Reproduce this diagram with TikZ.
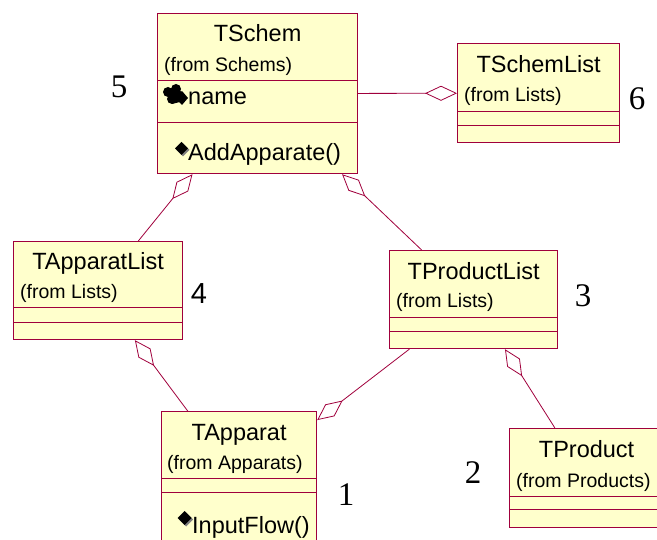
\documentclass[tikz,border=0pt]{standalone}
\usepackage{fontspec}
\setmainfont{Liberation Sans}
\newfontfamily\timesfont{Liberation Serif}
\usetikzlibrary{arrows.meta}

\definecolor{roseline}{RGB}{160,0,60}
\definecolor{rosefill}{RGB}{255,255,204}

\begin{document}
\begin{tikzpicture}[
                        x=1pt, y=-1pt,
                        classbox/.style={
                            rectangle,
                            draw=roseline,
                            fill=rosefill,
                            line width=1.2pt,
                            inner sep=0pt,
                            anchor=north west
                        },
                        divider/.style={
                            draw=roseline,
                            line width=0.9pt
                        },
                        title/.style={
                            font=\fontsize{23.5}{28}\selectfont,
                            anchor=base,
                            inner sep=0pt
                        },
                        from/.style={
                            font=\fontsize{19.5}{23}\selectfont,
                            anchor=base west,
                            inner sep=0pt
                        },
                        member/.style={
                            font=\fontsize{23.5}{28}\selectfont,
                            anchor=base west,
                            inner sep=0pt
                        },
                        number/.style={
                            font=\timesfont\fontsize{33}{38}\selectfont,
                            anchor=base,
                            inner sep=0pt
                        },
                        agg/.style={
                            draw=roseline,
                            line width=0.8pt,
                            -{Diamond[open, length=32pt, width=15pt]}
                        }]

                        \useasboundingbox (0,0) rectangle (657,540);

                        % class boxes
                        \node (tschem) [classbox, minimum width=200pt, minimum height=160pt] at (157,13) {};
                        \node (tschemlist) [classbox, minimum width=162pt, minimum height=99pt] at (457,43) {};
                        \node (tapparatlist) [classbox, minimum width=169pt, minimum height=98pt] at (13,241) {};
                        \node (tproductlist) [classbox, minimum width=168pt, minimum height=98pt] at (389,250) {};
                        \node (tapparat) [classbox, minimum width=155pt, minimum height=137pt] at (161,411) {};
                        \node (tproduct) [classbox, minimum width=154pt, minimum height=99pt] at (509,428) {};

                        % compartments
                        \draw [divider] (tschem.west |- 0,80) -- (tschem.east |- 0,80);
                        \draw [divider] (tschem.west |- 0,122) -- (tschem.east |- 0,122);
                        \draw [divider] (tschemlist.west |- 0,111) -- (tschemlist.east |- 0,111);
                        \draw [divider] (tschemlist.west |- 0,125) -- (tschemlist.east |- 0,125);
                        \draw [divider] (tapparatlist.west |- 0,307) -- (tapparatlist.east |- 0,307);
                        \draw [divider] (tapparatlist.west |- 0,322) -- (tapparatlist.east |- 0,322);
                        \draw [divider] (tproductlist.west |- 0,317) -- (tproductlist.east |- 0,317);
                        \draw [divider] (tproductlist.west |- 0,331) -- (tproductlist.east |- 0,331);
                        \draw [divider] (tapparat.west |- 0,478) -- (tapparat.east |- 0,478);
                        \draw [divider] (tapparat.west |- 0,492) -- (tapparat.east |- 0,492);
                        \draw [divider] (tproduct.west |- 0,496) -- (tproduct.east |- 0,496);
                        \draw [divider] (tproduct.west |- 0,509) -- (tproduct.east |- 0,509);

                        % texts
                        \node (tschem_title) [title] at (tschem.north |- 0,42) {TSchem};
                        \node (tschem_from) [from] at (164,72) {(from Schems)};
                        \node (tschem_name) [member] at (188,105) {name};
                        \node (tschem_add) [member] at (188,161) {AddApparate()};

                        \node (tschemlist_title) [title] at (tschemlist.north |- 0,73) {TSchemList};
                        \node (tschemlist_from) [from] at (464,102) {(from Lists)};

                        \node (tapparatlist_title) [title] at (tapparatlist.north |- 0,270) {TApparatList};
                        \node (tapparatlist_from) [from] at (20,299) {(from Lists)};

                        \node (tproductlist_title) [title] at (tproductlist.north |- 0,280) {TProductList};
                        \node (tproductlist_from) [from] at (396,308) {(from Lists)};

                        \node (tapparat_title) [title] at (tapparat.north |- 0,441) {TApparat};
                        \node (tapparat_from) [from] at (167,470) {(from Apparats)};
                        \node (tapparat_input) [member] at (192,533) {InputFlow()};

                        \node (tproduct_title) [title] at (tproduct.north |- 0,457) {TProduct};
                        \node (tproduct_from) [from] at (516,487) {(from Products)};

                        % icons
                        \fill (168,92) circle [radius=5pt];
                        \fill (176,89) circle [radius=5pt];
                        \fill (172,99) circle [radius=5pt];
                        \fill (167,92) -- (176,85) -- (182,93) -- (180,102) -- (172,104) -- cycle;
                        \fill (175,98) -- (182,91) -- (188,98) -- (182,105) -- cycle;
                        \fill [gray] (176.5,150) -- (183,143.5) -- (189.5,150) -- (183,156.5) -- cycle;
                        \fill (175,148.5) -- (181.5,142) -- (188,148.5) -- (181.5,155) -- cycle;
                        \fill [gray] (179,519.5) -- (186,512.5) -- (193,519.5) -- (186,526.5) -- cycle;
                        \fill (177.5,518) -- (184.5,511) -- (191.5,518) -- (184.5,525) -- cycle;

                        % numbers
                        \node (n5) [number] at (119,98) {5};
                        \node (n6) [number] at (637,110) {6};
                        \node (n4) [number, font=\fontsize{29}{34}\selectfont] at (199,304) {4};
                        \node (n3) [number] at (583,307) {3};
                        \node (n1) [number] at (346,505) {1};
                        \node (n2) [number] at (473,483) {2};

                        % aggregations
                        \draw [agg] (tschem) -- (tschemlist);
                        \draw [agg] (tapparatlist) -- (tschem);
                        \draw [agg] (tproductlist) -- (tschem);
                        \draw [agg] (tapparat) -- (tapparatlist);
                        \draw [agg] (tproductlist) -- (tapparat);
                        \draw [agg] (tproduct) -- (tproductlist);

                    \end{tikzpicture}
\end{document}
